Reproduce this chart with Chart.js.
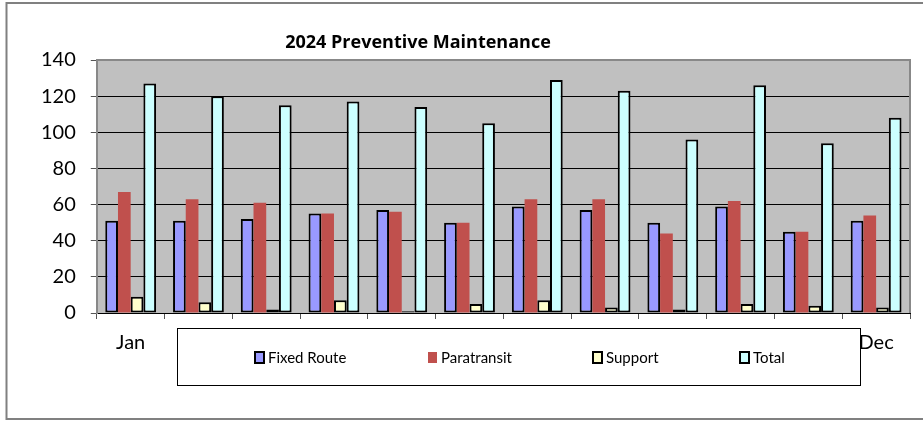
<!DOCTYPE html>
<html>
<head>
<meta charset="utf-8">
<script src="https://cdn.jsdelivr.net/npm/chart.js@4"></script>
<style>
  html, body { margin: 0; padding: 0; background: #fff; }
  #wrap { width: 923px; height: 421px; position: relative; }
</style>
</head>
<body>
<div id="wrap"><canvas id="pmChart"></canvas></div>
<script>
// data
const months = ['Jan','Feb','Mar','Apr','May','Jun','Jul','Aug','Sep','Oct','Nov','Dec'];
const fixedRoute  = [51, 51, 52, 55, 57, 50, 59, 57, 50, 59, 45, 51];
const paratransit = [67, 63, 61, 55, 56, 50, 63, 63, 44, 62, 45, 54];
const support     = [9, 6, 2, 7, 1, 5, 7, 3, 2, 5, 4, 3];
const total       = [127, 120, 115, 117, 114, 105, 129, 123, 96, 126, 94, 108];
const yTicks = [0, 20, 40, 60, 80, 100, 120, 140];

const FONT = 'Lato, "Open Sans", sans-serif';

// grey plot background + outer frame + top/right plot border
const plotFrame = {
    id: 'plotFrame',
    beforeDraw(chart) {
        const { ctx, chartArea: a } = chart;
        ctx.save();
        ctx.fillStyle = '#fff';
        ctx.fillRect(0, 0, chart.width, chart.height);
        ctx.fillStyle = '#c0c0c0';
        ctx.fillRect(a.left, a.top, a.right - a.left, a.bottom - a.top);
        ctx.strokeStyle = '#808080';
        ctx.lineWidth = 2;
        ctx.strokeRect(6.5, 3, chart.width + 10, 416);
        ctx.restore();
    },
    afterDatasetsDraw(chart) {
        const { ctx, chartArea: a } = chart;
        ctx.save();
        ctx.strokeStyle = '#888';
        ctx.lineWidth = 2;
        ctx.beginPath();
        ctx.moveTo(a.left, a.top);
        ctx.lineTo(a.right, a.top);
        ctx.lineTo(a.right, a.bottom);
        ctx.stroke();
        ctx.restore();
    }
};

// title and the boxed legend that sits over the month labels
const overlay = {
    id: 'overlay',
    afterDraw(chart) {
        const ctx = chart.ctx;
        ctx.save();
        ctx.fillStyle = '#000';
        ctx.font = 'bold 18px "Open Sans", sans-serif';
        ctx.textAlign = 'center';
        ctx.textBaseline = 'middle';
        ctx.fillText('2024 Preventive Maintenance', 418, 43);

        ctx.fillStyle = '#fff';
        ctx.fillRect(177, 328, 684, 58);
        ctx.strokeStyle = '#000';
        ctx.lineWidth = 1;
        ctx.strokeRect(177.5, 328.5, 683, 57);

        const xs = [255, 428, 593, 740];
        ctx.font = '15px ' + FONT;
        ctx.textAlign = 'left';
        chart.data.datasets.forEach((ds, i) => {
            const x = xs[i], y = 352;
            ctx.fillStyle = ds.backgroundColor;
            ctx.fillRect(x, y, 9, 11);
            if (ds.borderWidth) {
                ctx.strokeStyle = '#000';
                ctx.lineWidth = 2;
                ctx.strokeRect(x, y, 9, 11);
            }
            ctx.fillStyle = '#000';
            ctx.fillText(ds.label, x + 13, y + 6);
        });
        ctx.restore();
    }
};

const barBase = { barPercentage: 1.0, categoryPercentage: 0.75, borderSkipped: false };

new Chart(document.getElementById('pmChart'), {
    type: 'bar',
    data: {
        labels: months,
        datasets: [
            { ...barBase, label: 'Fixed Route', data: fixedRoute, backgroundColor: '#9999ff', borderColor: '#000', borderWidth: 2 },
            { ...barBase, label: 'Paratransit', data: paratransit, backgroundColor: '#c0504d', borderWidth: 0 },
            { ...barBase, label: 'Support', data: support, backgroundColor: '#ffffcc', borderColor: '#000', borderWidth: 2 },
            { ...barBase, label: 'Total', data: total, backgroundColor: '#ccffff', borderColor: '#000', borderWidth: 2 }
        ]
    },
    options: {
        responsive: true,
        maintainAspectRatio: false,
        animation: false,
        layout: { padding: { top: 60, right: 13, bottom: 54, left: 26 } },
        plugins: {
            legend: { display: false },
            title: { display: false },
            tooltip: { enabled: false }
        },
        scales: {
            x: {
                grid: { offset: true, drawOnChartArea: false, tickLength: 6, color: '#555' },
                border: { color: '#000', width: 1 },
                ticks: { color: '#000', font: { family: FONT, size: 20 }, padding: 12, maxRotation: 0, autoSkip: false }
            },
            y: {
                min: 0,
                max: 140,
                afterBuildTicks(scale) { scale.ticks = yTicks.map(v => ({ value: v })); },
                grid: { color: '#000', lineWidth: 1, tickLength: 6, tickColor: '#555' },
                border: { color: '#888', width: 2 },
                ticks: { color: '#000', font: { family: FONT, size: 20 }, padding: 15 }
            }
        }
    },
    plugins: [plotFrame, overlay]
});
</script>
</body>
</html>
